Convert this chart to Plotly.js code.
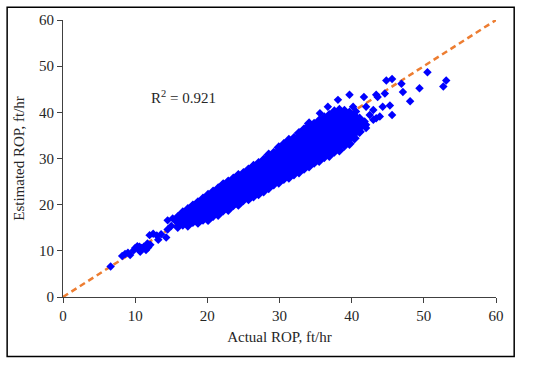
<!DOCTYPE html>
<html>
<head>
<meta charset="utf-8">
<script src="https://cdn.plot.ly/plotly-3.0.1.min.js"></script>
<style>html,body{margin:0;padding:0;background:#fff;}#chart{width:550px;height:366px;}</style>
</head>
<body>
<div id="chart"></div>
<script>
// Parity (1:1) line end points, ft/hr
const parityLine = [0, 60];

// Sparse low-rate points [actual, estimated]
const sparseLow = [
  [6.6, 6.6], [8.2, 8.9], [8.6, 9.3], [9.0, 9.6], [9.3, 9.1], [9.8, 10.1],
  [10.0, 10.6], [10.3, 11.0], [10.5, 10.3], [10.7, 9.8], [10.9, 10.6], [11.2, 10.9],
  [11.5, 10.2], [11.8, 10.7], [12.1, 11.3], [11.7, 11.6], [10.6, 10.9], [12.0, 13.4],
  [12.5, 13.7], [13.2, 12.4], [13.0, 13.3], [14.3, 12.9], [13.6, 13.6], [14.5, 14.6],
  [14.5, 16.6], [15.2, 17.0], [15.0, 15.4], [15.6, 16.7]
];

// Dense band, columns of [actual, [estimated...]]
const bandLow = [
  [15.9, [15.2, 16.2, 17.3]],
  [16.6, [15.7, 16.7, 17.6, 18.3]],
  [17.3, [15.5, 16.5, 17.5, 18.4, 19.0]],
  [18.0, [16.3, 17.3, 18.2, 19.2, 19.8]],
  [18.7, [16.1, 17.1, 18.1, 19.0, 20.0, 20.5]],
  [19.4, [16.8, 17.8, 18.8, 19.8, 20.7, 21.3]],
  [20.1, [16.7, 17.7, 18.7, 19.6, 20.6, 21.5, 22.1]],
  [20.8, [17.6, 18.6, 19.5, 20.5, 21.5, 22.4, 22.8]],
  [21.5, [17.8, 18.8, 19.8, 20.8, 21.7, 22.7, 23.5]],
  [22.2, [18.8, 19.7, 20.7, 21.7, 22.6, 23.6, 24.4]],
  [22.9, [18.9, 19.9, 20.8, 21.8, 22.8, 23.8, 24.7, 25.0]],
  [23.6, [19.9, 20.8, 21.8, 22.8, 23.7, 24.7, 25.6]]
];
const bandMid = [
  [24.3, [20.0, 21.0, 22.0, 22.9, 23.9, 24.9, 25.8, 26.4]],
  [25.0, [21.0, 22.0, 23.0, 23.9, 24.9, 25.9, 26.8]],
  [25.7, [21.2, 22.2, 23.2, 24.1, 25.1, 26.1, 27.0, 27.6]],
  [26.4, [21.8, 22.8, 23.8, 24.8, 25.7, 26.7, 27.6, 28.4]],
  [27.1, [22.3, 23.3, 24.3, 25.2, 26.2, 27.2, 28.1, 29.0]],
  [27.8, [22.9, 23.9, 24.9, 25.8, 26.8, 27.8, 28.8, 29.7]],
  [28.5, [23.6, 24.6, 25.6, 26.5, 27.5, 28.5, 29.5, 30.4, 30.8]],
  [29.2, [24.4, 25.4, 26.3, 27.3, 28.3, 29.3, 30.2, 31.2]],
  [29.9, [24.8, 25.8, 26.8, 27.7, 28.7, 29.7, 30.7, 31.6, 32.4]],
  [30.6, [25.6, 26.6, 27.5, 28.5, 29.5, 30.5, 31.4, 32.4, 33.1]],
  [31.3, [25.9, 26.9, 27.9, 28.9, 29.8, 30.8, 31.8, 32.8, 33.7, 34.0]],
  [32.0, [26.6, 27.6, 28.6, 29.6, 30.5, 31.5, 32.5, 33.5, 34.4]]
];
const bandHigh = [
  [32.7, [27.0, 28.0, 29.0, 30.0, 30.9, 31.9, 32.9, 33.9, 34.8, 35.5]],
  [33.4, [27.8, 28.7, 29.7, 30.7, 31.7, 32.6, 33.6, 34.6, 35.6, 36.3]],
  [34.1, [28.3, 29.3, 30.3, 31.3, 32.2, 33.2, 34.2, 35.2, 36.1, 37.0, 37.6]],
  [34.8, [29.1, 30.1, 31.0, 32.0, 33.0, 34.0, 34.9, 35.9, 36.9, 37.5]],
  [35.5, [29.5, 30.5, 31.5, 32.5, 33.4, 34.4, 35.4, 36.4, 37.3, 38.2]],
  [36.2, [30.3, 31.3, 32.3, 33.3, 34.2, 35.2, 36.2, 37.2, 38.1, 38.9]],
  [36.9, [30.6, 31.6, 32.6, 33.6, 34.6, 35.5, 36.5, 37.5, 38.5, 39.4]],
  [37.6, [31.5, 32.5, 33.4, 34.4, 35.4, 36.4, 37.3, 38.3, 39.3, 40.2]],
  [38.3, [31.8, 32.8, 33.8, 34.8, 35.7, 36.7, 37.7, 38.7, 39.6, 40.5]],
  [39.0, [32.8, 33.8, 34.7, 35.7, 36.7, 37.7, 38.6, 39.6, 40.3]],
  [39.7, [33.2, 34.2, 35.1, 36.1, 37.1, 38.1, 39.0, 39.9]],
  [40.4, [34.4, 35.4, 36.4, 37.3, 38.3, 39.2]],
  [41.1, [35.8, 36.8, 37.7, 38.6]]
];

// Scattered high-rate points [actual, estimated]
const outliersHigh = [
  [38.1, 42.7], [36.7, 41.2], [35.6, 39.8], [39.7, 43.8], [40.2, 41.2], [40.6, 40.2],
  [41.7, 43.3], [42.0, 41.2], [43.0, 40.5], [42.5, 39.4], [43.4, 38.7], [41.1, 36.5],
  [42.0, 37.3], [43.0, 38.4], [43.9, 39.1], [41.8, 38.0], [41.1, 35.8], [42.0, 36.6],
  [43.4, 43.8], [43.6, 43.3], [44.3, 41.2], [44.6, 44.1], [44.8, 46.9], [45.6, 47.2],
  [45.3, 41.5], [45.6, 39.4], [46.9, 46.2], [47.1, 44.4], [48.1, 42.4], [49.4, 45.2],
  [50.5, 48.7], [52.7, 45.6], [53.1, 46.9]
];

const bandX = [], bandY = [];
[bandLow, bandMid, bandHigh].forEach(group => group.forEach(col => col[1].forEach(v => { bandX.push(col[0]); bandY.push(v); })));
const sparseX = [], sparseY = [];
sparseLow.concat(outliersHigh).forEach(p => { sparseX.push(p[0]); sparseY.push(p[1]); });

const serif = 'Liberation Serif, Times New Roman, serif';
const txt = '#262626';

const traces = [
  {x: parityLine, y: parityLine, mode: 'lines', type: 'scatter',
   line: {color: '#ED7D31', width: 2.5, dash: '6px,4px'}, hoverinfo: 'skip', showlegend: false},
  {x: bandX, y: bandY, mode: 'markers', type: 'scatter',
   marker: {symbol: 'diamond', size: 8, color: '#0000FF', line: {width: 0}}, showlegend: false},
  {x: sparseX, y: sparseY, mode: 'markers', type: 'scatter',
   marker: {symbol: 'diamond', size: 6.5, color: '#0000FF', line: {width: 0}}, showlegend: false}
];

const axisCommon = {
  range: [0, 60], dtick: 10, tick0: 0, showgrid: false, zeroline: false,
  showline: true, linecolor: '#404040', linewidth: 1,
  ticks: 'outside', ticklen: 5, tickcolor: '#404040', tickwidth: 1,
  tickfont: {family: serif, size: 15, color: txt}, fixedrange: true
};

const layout = {
  width: 550, height: 366,
  margin: {l: 63, r: 54, t: 20, b: 69},
  paper_bgcolor: '#ffffff', plot_bgcolor: '#ffffff',
  xaxis: Object.assign({}, axisCommon, {title: {text: 'Actual ROP, ft/hr', font: {family: serif, size: 15, color: txt}, standoff: 8}}),
  yaxis: Object.assign({}, axisCommon, {title: {text: 'Estimated ROP, ft/hr', font: {family: serif, size: 15, color: txt}, standoff: 10}}),
  annotations: [{x: 16.7, y: 43.4, xref: 'x', yref: 'y', text: 'R<sup>2</sup> = 0.921', showarrow: false,
    font: {family: serif, size: 15, color: txt}}],
  shapes: [{type: 'rect', xref: 'paper', yref: 'paper', x0: -0.129, x1: 1.042, y0: -0.2145, y1: 1.046,
    line: {color: '#000000', width: 1.5}, fillcolor: 'rgba(0,0,0,0)', layer: 'above'}]
};

Plotly.newPlot('chart', traces, layout, {displayModeBar: false, staticPlot: true});
</script>
</body>
</html>
